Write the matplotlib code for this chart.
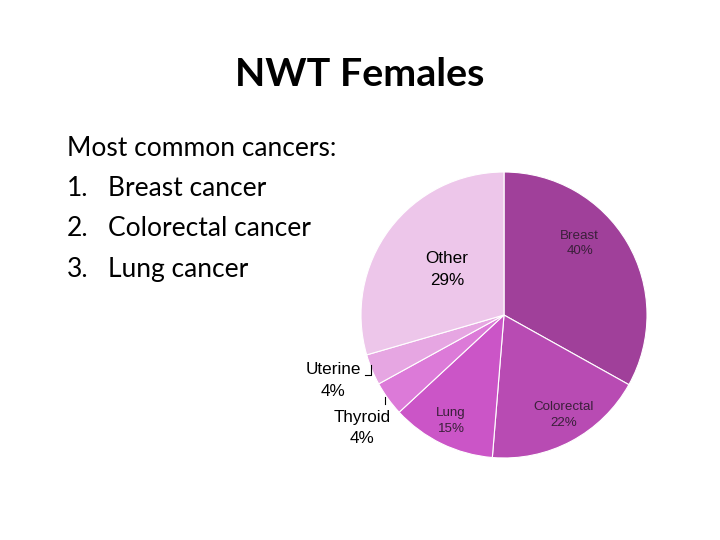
import numpy as np
import matplotlib.pyplot as plt

# wedge sizes as drawn, and the printed labels
names = ['Breast', 'Colorectal', 'Lung', 'Thyroid', 'Uterine', 'Other']
sizes = [33.1, 18.2, 11.8, 3.9, 3.5, 29.5]
pct_text = ['40%', '22%', '15%', '4%', '4%', '29%']
colors = ['#a0409a', '#b84bb3', '#cb55c7', '#dc7ad8', '#e6a6e2', '#edc6ea']
bullets = ['Breast cancer', 'Colorectal cancer', 'Lung cancer']

fig = plt.figure(figsize=(7.2, 5.4), dpi=100)
fig.patch.set_facecolor('white')

fig.text(360/720, 1-74/540, 'NWT Females', ha='center', va='center',
         fontsize=28.4, fontweight='bold', family=['Lato', 'DejaVu Sans'])
fig.text(67/720, 1-149/540, 'Most common cancers:', ha='left', va='center',
         fontsize=19, family=['Lato', 'DejaVu Sans'])
for i, b in enumerate(bullets):
  y = 1-(189+40*i)/540
  fig.text(67/720, y, '%d.' % (i+1), ha='left', va='center', fontsize=19, family=['Lato', 'DejaVu Sans'])
  fig.text(108/720, y, b, ha='left', va='center', fontsize=19, family=['Lato', 'DejaVu Sans'])

# pie axes: centre (504,315), radius 143 px
cx, cy, r = 504, 315, 143
ax = fig.add_axes([(cx-r)/720, (540-cy-r)/540, 2*r/720, 2*r/540])
ax.pie(sizes, colors=colors, startangle=90, counterclock=False, radius=1,
       wedgeprops=dict(edgecolor='white', linewidth=0.8))
ax.set_xlim(-1, 1)
ax.set_ylim(-1, 1)
ax.set_aspect('equal')
ax.axis('off')

# label positions in pie units
inner = {'Breast': (0.53, 0.50), 'Colorectal': (0.42, -0.70), 'Lung': (-0.37, -0.74)}
for n, p in zip(names, pct_text):
  if n in inner:
    x, y = inner[n]
    ax.text(x, y, n + '\n' + p, ha='center', va='center', fontsize=9.6,
            color='#3a1f3a', family='Liberation Sans', linespacing=1.4)
ax.text(-0.40, 0.32, 'Other\n29%', ha='center', va='center', fontsize=12.3,
        color='black', family='Liberation Sans', linespacing=1.55)
ax.text(-1.195, -0.46, 'Uterine\n4%', ha='center', va='center', fontsize=12.3,
        color='black', family='Liberation Sans', linespacing=1.55, clip_on=False)
ax.text(-0.99, -0.79, 'Thyroid\n4%', ha='center', va='center', fontsize=12.3,
        color='black', family='Liberation Sans', linespacing=1.55, clip_on=False)
# leader ticks
ax.plot([-0.93, -0.93, -0.97], [-0.35, -0.42, -0.42], color='black', lw=0.8, clip_on=False)
ax.plot([-0.83, -0.83], [-0.57, -0.62], color='black', lw=0.8, clip_on=False)

fig.savefig('out.png', dpi=100)
